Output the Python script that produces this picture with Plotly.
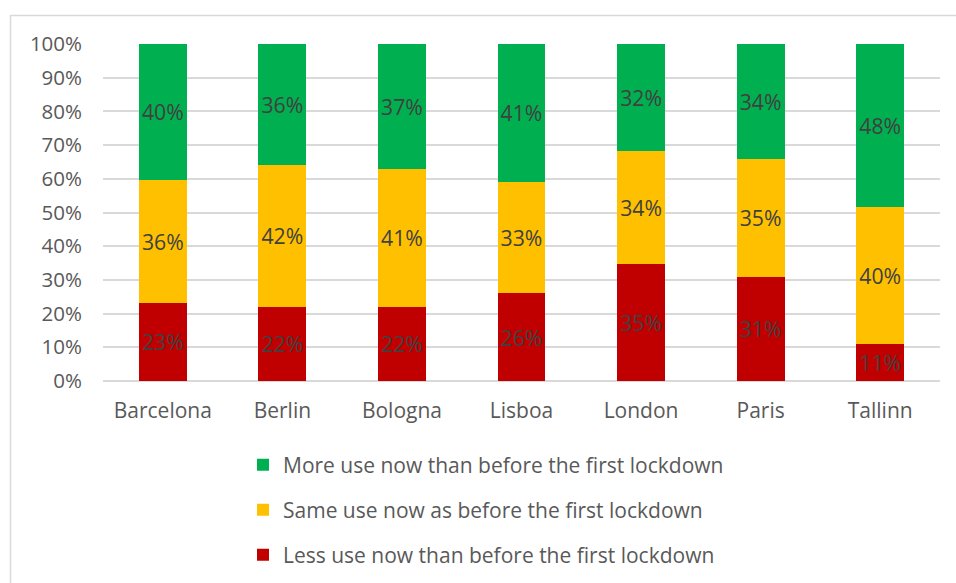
import plotly.graph_objects as go

cities = ["Barcelona", "Berlin", "Bologna", "Lisboa", "London", "Paris", "Tallinn"]
less_use = [23, 22, 22, 26, 35, 31, 11]
same_use = [36, 42, 41, 33, 34, 35, 40]
more_use = [40, 36, 37, 41, 32, 34, 48]
y_ticks = [0, 10, 20, 30, 40, 50, 60, 70, 80, 90, 100]

names = ["Less use now than before the first lockdown",
         "Same use now as before the first lockdown",
         "More use now than before the first lockdown"]
colors = ["#C00000", "#FFC000", "#00B050"]
series = [less_use, same_use, more_use]
legends = ["legend3", "legend2", "legend"]

FONT = "'Open Sans', sans-serif"

fig = go.Figure()
for name, vals, col, lg in zip(names, series, colors, legends):
    fig.add_trace(go.Bar(
        x=cities, y=vals, name=name, marker=dict(color=col, line=dict(width=0)),
        text=[f"{v}%" for v in vals], textposition="inside", insidetextanchor="middle",
        textfont=dict(color="#404040", size=21.5, family=FONT), textangle=0,
        hoverinfo="skip", legend=lg, showlegend=True,
    ))

W, H = 956, 583
L, R, T, B = 103, 16, 44, 202
pw, ph = W - L - R, H - T - B

def px(x):
    return (x - L) / pw

def py(y):
    return (H - B - y) / ph

def cx(x):
    return x / W

def cy(y):
    return (H - y) / H

legend_common = dict(orientation="v", xanchor="left", yanchor="middle",
                     xref="container", yref="container",
                     font=dict(size=21, color="#595959", family=FONT),
                     bgcolor="rgba(0,0,0,0)", itemclick=False, itemdoubleclick=False,
                     itemwidth=30)

fig.update_layout(
    width=W, height=H,
    margin=dict(l=L, r=R, t=T, b=B, autoexpand=False),
    showlegend=True,
    barmode="stack", barnorm="percent", bargap=0.6,
    plot_bgcolor="white", paper_bgcolor="white",
    font=dict(family=FONT, color="#595959", size=21),
    xaxis=dict(showgrid=False, showline=False, ticks="", ticklabelstandoff=15,
               tickfont=dict(size=21, color="#595959"), automargin=False),
    yaxis=dict(range=[0, 100], tickvals=y_ticks, ticktext=[f"{v}%" for v in y_ticks],
               showgrid=True, gridcolor="#D9D9D9", gridwidth=1.5, zeroline=True,
               zerolinecolor="#D9D9D9", zerolinewidth=1.5, automargin=False,
               tickfont=dict(size=20.5, color="#595959"), ticks="", ticklabelstandoff=20),
    legend=dict(x=cx(243), y=cy(465), **legend_common),
    legend2=dict(x=cx(243), y=cy(510), **legend_common),
    legend3=dict(x=cx(243), y=cy(555), **legend_common),
    shapes=[dict(type="rect", xref="paper", yref="paper",
                 x0=px(10.5), x1=px(960), y0=py(590), y1=py(15.5),
                 line=dict(color="#D9D9D9", width=1.5), layer="below")],
)

fig.write_html("out.html")
